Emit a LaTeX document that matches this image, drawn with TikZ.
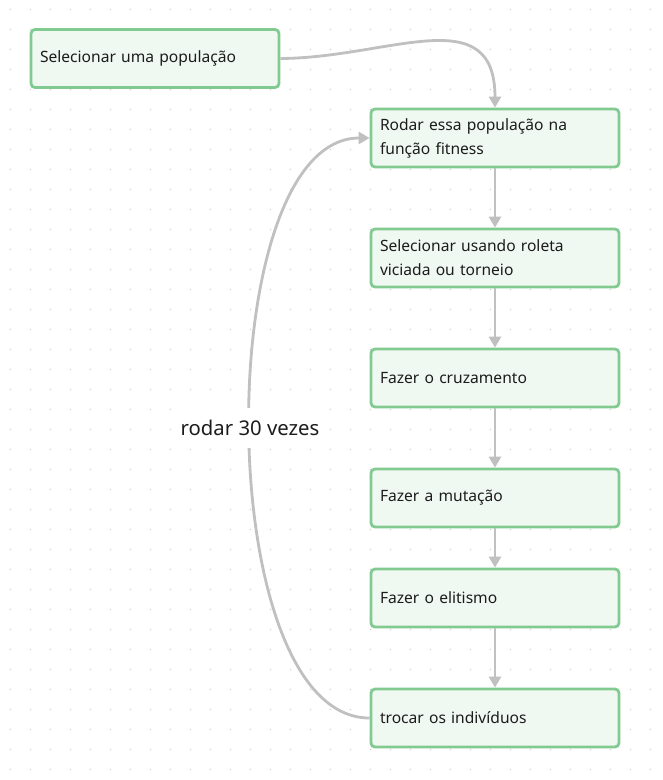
\documentclass[tikz,border=0pt]{standalone}
\usepackage{fontspec}
\setmainfont{Noto Sans}
\usetikzlibrary{arrows.meta}
\definecolor{boxfill}{HTML}{F0F8F2}
\definecolor{boxline}{HTML}{82CB90}
\definecolor{edgecol}{HTML}{C0C0C0}
\definecolor{dotcol}{HTML}{D6D6D6}
\definecolor{txt}{HTML}{1C1C1C}
\tikzset{
  stepbox/.style={draw=boxline, fill=boxfill, line width=2.8pt, rounded corners=4pt,
    minimum width=248pt, minimum height=58pt, text width=230pt, inner xsep=9pt, inner ysep=0pt,
    align=left, text=txt, font=\fontsize{15.6}{24}\selectfont},
  conn/.style={draw=edgecol, line width=2.8pt, -{Triangle[length=11pt,width=12pt]}},
  looplabel/.style={fill=white, text=txt, font=\fontsize{20.3}{24}\selectfont, inner sep=0pt, minimum height=40pt, minimum width=150pt}
}
\begin{document}
\begin{tikzpicture}[x=1pt,y=-1pt]
\useasboundingbox (0,0) rectangle (663,780);
\fill[white] (0,0) rectangle (663,780);
\foreach \i in {0,...,32} {\foreach \j in {0,...,38} {\fill[dotcol] (10.5+20*\i,9.5+20*\j) circle (0.8pt);}}
\node[stepbox] (b1) at (155,58.5) {Selecionar uma população};
\node[stepbox] (b2) at (495,138) {\raisebox{-1.5pt}{Rodar essa população na}\\\raisebox{-1.5pt}{função fitness}};
\node[stepbox] (b3) at (495,258) {\raisebox{-1.5pt}{Selecionar usando roleta}\\\raisebox{-1.5pt}{viciada ou torneio}};
\node[stepbox] (b4) at (495,378) {Fazer o cruzamento};
\node[stepbox] (b5) at (495,498) {Fazer a mutação};
\node[stepbox] (b6) at (495,598) {Fazer o elitismo};
\node[stepbox] (b7) at (495,718) {trocar os indivíduos};
\draw[conn] (b1.east) .. controls (389,58) and (495,-1) .. (b2.north);
\draw[conn] (b2) -- (b3);
\draw[conn] (b3) -- (b4);
\draw[conn] (b4) -- (b5);
\draw[conn] (b5) -- (b6);
\draw[conn] (b6) -- (b7);
\draw[conn] (b7.west) .. controls (210,718) and (210,138) .. (b2.west);
\node[looplabel] (lbl) at (250,428) {rodar 30 vezes};
\end{tikzpicture}
\end{document}
